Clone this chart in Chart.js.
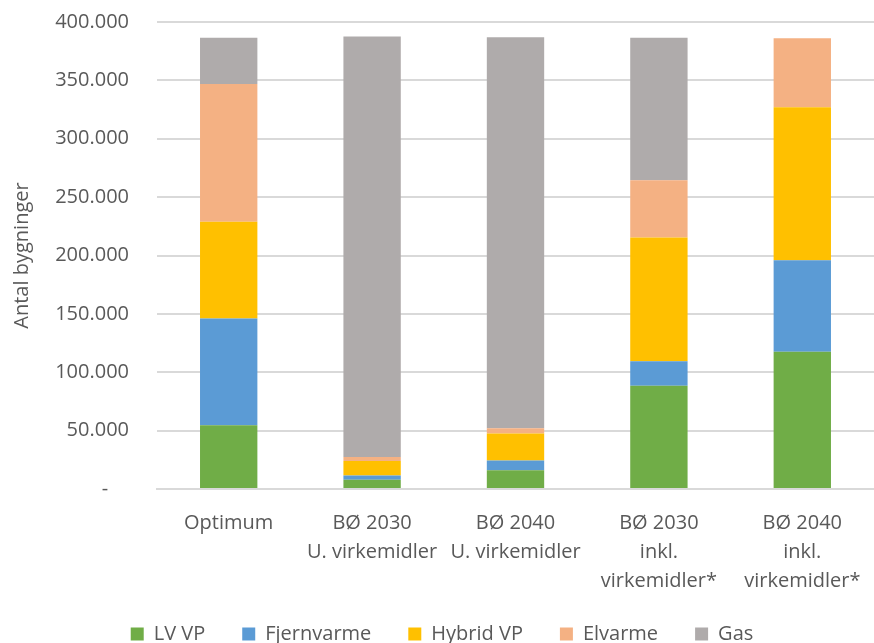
<!DOCTYPE html>
<html>
<head>
<meta charset="utf-8">
<script src="https://cdn.jsdelivr.net/npm/chart.js@4/dist/chart.umd.min.js"></script>
<style>
	html, body { margin: 0; padding: 0; background: #fff; }
	#wrap { width: 874px; height: 643px; position: relative; }
</style>
</head>
<body>
<div id="wrap"><canvas id="c" width="874" height="643"></canvas></div>
<script>
const categories = [
	'Optimum',
	['BØ 2030', 'U. virkemidler'],
	['BØ 2040', 'U. virkemidler'],
	['BØ 2030', 'inkl.', 'virkemidler*'],
	['BØ 2040', 'inkl.', 'virkemidler*']
];
const lvVp = [54500, 8000, 16000, 88500, 117500];
const fjernvarme = [91500, 3500, 8500, 21000, 78500];
const hybridVp = [83000, 12500, 23000, 106000, 131000];
const elvarme = [118000, 3500, 4500, 49000, 59000];
const gas = [39500, 360000, 335000, 122000, 0];
const yTicks = [0, 50000, 100000, 150000, 200000, 250000, 300000, 350000, 400000];

const textColor = '#595959';
const gridColor = '#d9d9d9';
const font = { family: 'Open Sans', size: 20 };

function fmt(v){
	if(v === 0) return '-    ';
	return String(v).replace(/\B(?=(\d{3})+(?!\d))/g, '.');
}

function ds(label, data, color){
	return {
		label,
		data,
		backgroundColor: color,
		borderWidth: 0,
		barPercentage: 0.4,
		categoryPercentage: 1
	};
}

// pull the legend row up a little so the tall x labels keep their room
const legendNudge = {
	id: 'legendNudge',
	afterLayout(chart){
		chart.legend.top -= 10;
		chart.legend.bottom -= 10;
	}
};

new Chart(document.getElementById('c'), {
	type: 'bar',
	data: {
		labels: categories,
		datasets: [
			ds('LV VP', lvVp, '#70ad47'),
			ds('Fjernvarme', fjernvarme, '#5b9bd5'),
			ds('Hybrid VP', hybridVp, '#ffc000'),
			ds('Elvarme', elvarme, '#f4b183'),
			ds('Gas', gas, '#afabab')
		]
	},
	plugins: [legendNudge],
	options: {
		responsive: false,
		animation: false,
		layout: { padding: { left: 10, right: 0, top: 22, bottom: -21 } },
		scales: {
			x: {
				stacked: true,
				grid: { display: false },
				border: { color: gridColor, width: 2 },
				ticks: {
					color: textColor,
					font: { family: 'Open Sans', size: 20, lineHeight: 1.45 },
					padding: 12, maxRotation: 0, autoSkip: false
				},
				afterFit: (s) => { s.height = 108; s.paddingLeft = 0; s.paddingRight = 0; }
			},
			y: {
				stacked: true,
				min: 0,
				max: 400000,
				afterBuildTicks: (s) => { s.ticks = yTicks.map(v => ({ value: v })); },
				afterFit: (s) => { s.width = 147; s.paddingTop = 0; s.paddingBottom = 0; },
				grid: { color: gridColor, lineWidth: 2, drawTicks: false },
				border: { display: false },
				ticks: { color: textColor, font, padding: 28, callback: fmt },
				title: {
					display: true,
					text: 'Antal bygninger',
					color: textColor,
					font,
					padding: 0
				}
			}
		},
		plugins: {
			tooltip: { enabled: false },
			legend: {
				position: 'bottom',
				labels: {
					color: textColor,
					font,
					boxWidth: 13,
					boxHeight: 13,
					padding: 37
				}
			}
		}
	}
});
</script>
</body>
</html>
